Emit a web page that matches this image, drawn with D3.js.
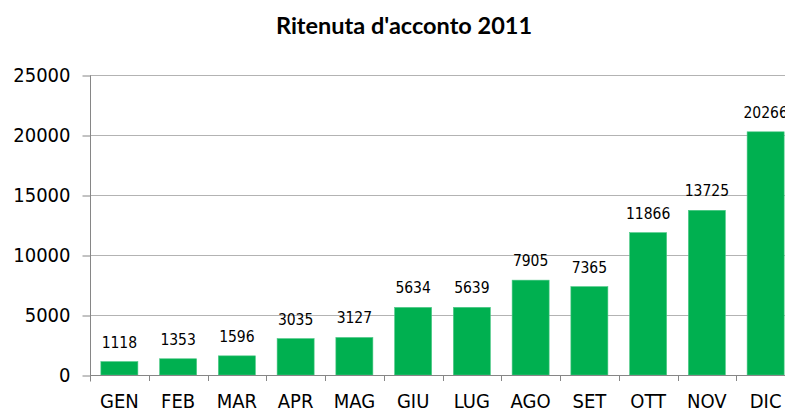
<!DOCTYPE html>
<html>
<head>
<meta charset="utf-8">
<script src="https://cdn.jsdelivr.net/npm/d3@7"></script>
<style>
  html, body { margin: 0; padding: 0; background: #fff; overflow: hidden; }
  svg { display: block; }
</style>
</head>
<body>
<svg id="chart"></svg>
<script>
const months = ['GEN', 'FEB', 'MAR', 'APR', 'MAG', 'GIU', 'LUG', 'AGO', 'SET', 'OTT', 'NOV', 'DIC'];
const values = [1118, 1353, 1596, 3035, 3127, 5634, 5639, 7905, 7365, 11866, 13725, 20266];
const yTicks = [0, 5000, 10000, 15000, 20000, 25000];
const title = "Ritenuta d'acconto 2011";

const width = 785;
const height = 412;
const margin = { top: 75, right: -10, bottom: 37, left: 90 };
const font = "'DejaVu Sans Condensed', 'DejaVu Sans', sans-serif";

const svg = d3.select('#chart').attr('width', width).attr('height', height);

const x = d3
  .scaleBand()
  .domain(months)
  .range([margin.left, width - margin.right])
  .paddingInner(0.37)
  .paddingOuter(0.185);

const y = d3
  .scaleLinear()
  .domain([0, 25000])
  .range([height - margin.bottom, margin.top]);

// gridlines
svg
  .append('g')
  .selectAll('line')
  .data(yTicks.slice(1))
  .join('line')
  .attr('x1', margin.left)
  .attr('x2', width)
  .attr('y1', (d) => y(d) + 0.5)
  .attr('y2', (d) => y(d) + 0.5)
  .attr('stroke', '#b3b3b3')
  .attr('stroke-width', 1);

// y axis
const yAxis = svg
  .append('g')
  .attr('transform', `translate(${margin.left + 0.5},0.5)`)
  .call(d3.axisLeft(y).tickValues(yTicks).tickSize(8).tickPadding(12).tickFormat((d) => `${d}`));
yAxis.select('.domain').attr('stroke', '#868686').attr('d', `M0,${y(25000)}V${y(0) + 6}`);
yAxis.selectAll('.tick line').attr('stroke', '#868686');
yAxis
  .selectAll('.tick text')
  .attr('font-family', font)
  .attr('font-size', 20)
  .attr('fill', '#000');

// bars
svg
  .append('g')
  .selectAll('rect')
  .data(months.map((m, i) => ({ label: m, value: values[i] })))
  .join('rect')
  .attr('x', (d) => x(d.label))
  .attr('y', (d) => y(d.value))
  .attr('width', x.bandwidth())
  .attr('height', (d) => y(0) - y(d.value))
  .attr('fill', '#00b050')
  .attr('stroke', '#4cc886')
  .attr('stroke-width', 0.6);

// x axis line and category boundary ticks
const boundaries = d3.range(months.length + 1).map((i) => margin.left + i * x.step());
const xAxis = svg.append('g');
xAxis
  .append('line')
  .attr('x1', margin.left)
  .attr('x2', width)
  .attr('y1', y(0) + 0.5)
  .attr('y2', y(0) + 0.5)
  .attr('stroke', '#868686');
xAxis
  .selectAll('line.tick')
  .data(boundaries.slice(1))
  .join('line')
  .attr('class', 'tick')
  .attr('x1', (d) => Math.round(d) + 0.5)
  .attr('x2', (d) => Math.round(d) + 0.5)
  .attr('y1', y(0))
  .attr('y2', y(0) + 6)
  .attr('stroke', '#868686');

xAxis
  .selectAll('text')
  .data(months)
  .join('text')
  .attr('x', (d) => x(d) + x.bandwidth() / 2)
  .attr('y', y(0) + 33)
  .attr('text-anchor', 'middle')
  .attr('font-family', font)
  .attr('font-size', 20)
  .attr('fill', '#000')
  .text((d) => d);

// value labels
svg
  .append('g')
  .selectAll('text')
  .data(months.map((m, i) => ({ label: m, value: values[i] })))
  .join('text')
  .attr('x', (d) => x(d.label) + x.bandwidth() / 2)
  .attr('y', (d) => y(d.value) - 14)
  .attr('text-anchor', 'middle')
  .attr('font-family', font)
  .attr('font-size', 15.5)
  .attr('fill', '#000')
  .text((d) => d.value);

// title
svg
  .append('text')
  .attr('x', 404)
  .attr('y', 34)
  .attr('text-anchor', 'middle')
  .attr('font-family', 'Lato, sans-serif')
  .attr('font-weight', 'bold')
  .attr('font-size', 23.5)
  .attr('fill', '#000')
  .text(title);
</script>
</body>
</html>
